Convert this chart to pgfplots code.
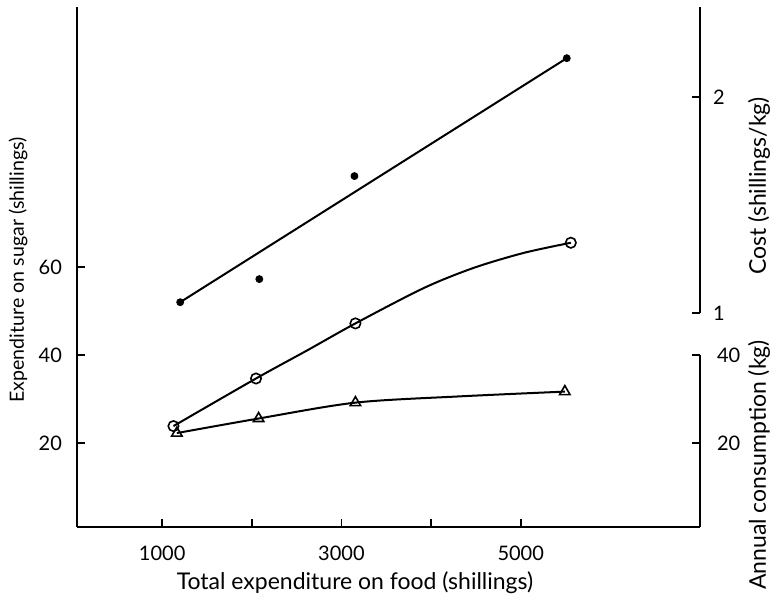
\documentclass[border=0pt]{standalone}
\usepackage{pgfplots}
\pgfplotsset{compat=1.18}
\usepackage{fontspec}
\setmainfont{Lato}

\begin{document}
\begin{tikzpicture}[font=\fontsize{9.5}{11}\selectfont]
\pgfplotsset{
  every axis/.append style={
    scale only axis, width=311.5pt, xmin=50, xmax=7000, anchor=south west,
    /pgf/number format/assume math mode=true,
    /pgf/number format/1000 sep={},
    tick style={black, line width=0.8pt},
    axis line style={-, line width=1.2pt},
    tick label style={font=\fontsize{10}{12}\selectfont},
    tick align=inside, major tick length=4pt, minor tick length=4pt,
    clip=false,
  },
}
% main axis: expenditure on sugar
\begin{axis}[at={(0,0)}, height=260pt, ymin=1, ymax=119,
  axis x line*=bottom, axis y line*=left,
  xtick={1000,3000,5000}, minor xtick={2000,4000},
  ytick={20,40,60},
  xticklabel style={yshift=-6pt}, yticklabel style={xshift=-4pt}]
% fitted curve
\addplot[smooth, tension=0.5, line width=1pt, no marks]
  coordinates {(1126,23.9) (2047,34.7) (2620,41.1) (3156,47.2) (3916,55.2)
               (4475,59.8) (5034,63.2) (5559,65.5)};
% data points
\addplot[only marks, mark=o, mark size=2.6pt,
  mark options={solid, fill=white, line width=0.8pt}]
  coordinates {(1126,23.9) (2047,34.7) (3156,47.2) (5559,65.5)};
\end{axis}
% cost axis
\begin{axis}[at={(0,107pt)}, height=153pt, ymin=1, ymax=2.417,
  axis y line*=right, axis x line=none, ytick={1,2},
  yticklabel style={xshift=3pt}]
\addplot[no marks, line width=1pt] coordinates {(1201,1.05) (5514,2.18)};
\addplot[only marks, mark=*, mark size=1.75pt]
  coordinates {(1201,1.05) (2084,1.157) (3145,1.634) (5514,2.18)};
\end{axis}
% consumption axis
\begin{axis}[at={(0,0)}, height=86pt, ymin=1, ymax=40,
  axis y line*=right, axis x line=none, ytick={20,40},
  yticklabel style={xshift=5pt}]
\addplot[smooth, tension=0.5, line width=1pt, no marks]
  coordinates {(1164,22.3) (2076,25.6) (3156,29.2) (4300,30.6) (5492,31.7)};
\addplot[only marks, mark=triangle, mark size=3pt,
  mark options={solid, fill=white, line width=0.8pt}]
  coordinates {(1164,22.3) (2076,25.6) (3156,29.2) (5492,31.7)};
\end{axis}
\node[rotate=90, font=\fontsize{9.8}{11}\selectfont] at (-29.5pt,128.5pt) {Expenditure on sugar (shillings)};
\node[font=\fontsize{11.5}{13}\selectfont] at (139pt,-28pt) {Total expenditure on food (shillings)};
\node[rotate=90, font=\fontsize{11.5}{13}\selectfont] at (341pt,170.5pt) {Cost (shillings/kg)};
\node[rotate=90, font=\fontsize{11.5}{13}\selectfont] at (341pt,31pt) {Annual consumption (kg)};
\pgfresetboundingbox
\path[use as bounding box] (-38.5pt,-36.5pt) rectangle (347pt,263.5pt);
\end{tikzpicture}
\end{document}
